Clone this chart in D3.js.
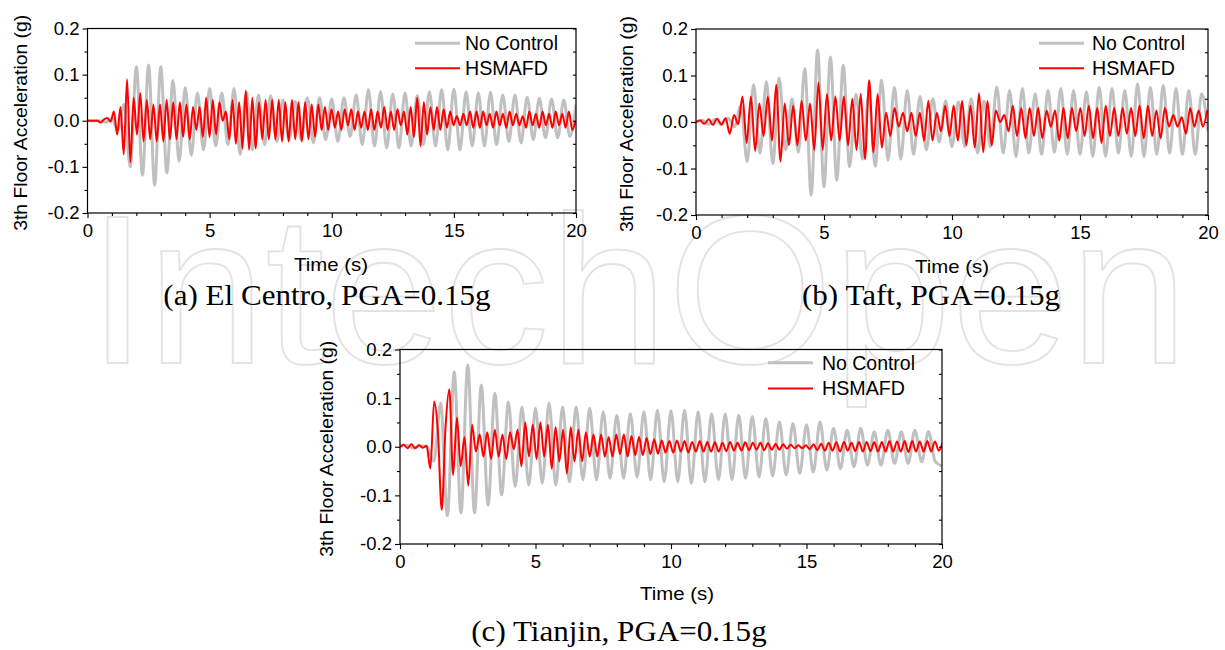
<!DOCTYPE html>
<html><head><meta charset="utf-8">
<script src="https://cdn.jsdelivr.net/npm/d3@7"></script>
<style>body{margin:0;background:#fff}svg{display:block}</style>
</head><body>
<svg id="chart" width="1225" height="650"></svg>
<script>
// ---------- DATA ----------
const timeTicks = [0, 5, 10, 15, 20];
const accTicks = [-0.2, -0.1, 0.0, 0.1, 0.2];
const seriesNames = ["No Control", "HSMAFD"];
const captions = ["(a) El Centro, PGA=0.15g", "(b) Taft, PGA=0.15g", "(c) Tianjin, PGA=0.15g"];
const xTitle = "Time (s)";
const yTitle = "3th Floor Acceleration (g)";
const watermark = "IntechOpen";

// extrema of each record, sampled every <step> seconds from t = 0
const elCentroNoControlStep = 0.25;
const elCentroNoControl = [0,0,0,-0.003,0.005,-0.02,0.035,-0.10,0.117,-0.118,
 0.121,-0.14,0.117,-0.113,0.087,-0.088,0.072,-0.075,0.06,-0.063,
 0.07,-0.055,0.06,-0.052,0.07,-0.073,0.063,-0.063,0.056,-0.052,
 0.054,-0.045,0.045,-0.041,0.042,-0.041,0.05,-0.048,0.05,-0.041,
 0.047,-0.045,0.05,-0.034,0.056,-0.052,0.067,-0.055,0.063,-0.059,
 0.058,-0.059,0.06,-0.055,0.055,-0.052,0.063,-0.055,0.068,-0.063,
 0.069,-0.063,0.063,-0.055,0.06,-0.055,0.062,-0.052,0.056,-0.045,
 0.056,-0.048,0.051,-0.041,0.049,-0.037,0.047,-0.037,0.045,-0.034,0.035];

const elCentroHSMAFDStep = 0.135;
const elCentroHSMAFD = [0,0,0,0,-0.004,0.003,0.006,-0.002,0.02,-0.03,
 0.03,-0.073,0.09,-0.09,0.05,-0.03,0.06,-0.045,0.045,-0.04,
 0.035,-0.045,0.035,-0.045,0.045,-0.04,0.04,-0.04,0.04,-0.035,
 0.035,-0.04,0.03,-0.02,0.03,-0.035,0.05,-0.035,0.045,-0.03,
 0.04,0.0,0.02,-0.04,0.045,-0.05,0.04,-0.06,0.065,-0.063,
 0.05,-0.06,0.04,-0.04,0.045,-0.04,0.045,-0.04,0.045,-0.045,
 0.04,-0.045,0.045,-0.04,0.04,-0.045,0.04,-0.04,0.035,-0.035,
 0.035,-0.02,0.03,-0.02,0.025,-0.015,0.02,-0.02,0.025,-0.01,
 0.025,-0.02,0.02,-0.015,0.02,-0.02,0.025,-0.02,0.02,-0.015,
 0.03,-0.02,0.02,-0.02,0.025,-0.01,0.02,-0.03,0.03,-0.035,
 0.05,-0.055,0.04,-0.03,0.03,-0.02,0.03,-0.02,0.025,-0.015,
 0.02,-0.01,0.01,-0.01,0.015,-0.01,0.02,-0.015,0.02,-0.015,
 0.02,-0.01,0.015,-0.015,0.02,-0.01,0.015,-0.015,0.02,-0.01,
 0.015,-0.01,0.01,-0.015,0.02,-0.01,0.015,-0.015,0.02,-0.01,
 0.015,-0.015,0.02,-0.01,0.015,-0.015,0.02,-0.02,0.0];

const taftNoControlStep = 0.25;
const taftNoControl = [0,0.004,-0.005,0.006,-0.006,0.008,-0.01,0.035,-0.085,0.08,
 -0.067,0.087,-0.089,0.094,-0.06,0.05,-0.065,0.115,-0.157,0.155,
 -0.14,0.14,-0.125,0.122,-0.096,0.06,-0.08,0.06,-0.095,0.09,
 -0.082,0.075,-0.08,0.068,-0.07,0.055,-0.06,0.05,-0.043,0.045,
 -0.053,0.043,-0.053,0.05,-0.067,0.045,-0.053,0.075,-0.067,0.068,
 -0.074,0.072,-0.067,0.061,-0.07,0.068,-0.065,0.072,-0.07,0.068,
 -0.07,0.065,-0.074,0.075,-0.074,0.072,-0.067,0.068,-0.074,0.082,
 -0.074,0.075,-0.07,0.079,-0.067,0.072,-0.07,0.068,-0.07,0.061,-0.02];

const taftHSMAFDStep = 0.165;
const taftHSMAFD = [0,0.003,-0.004,0.006,-0.006,0.007,-0.005,0.008,-0.025,0.015,
 -0.005,0.055,-0.045,0.055,-0.062,0.04,-0.03,0.055,-0.04,0.08,
 -0.085,0.04,-0.05,0.035,-0.05,0.045,-0.04,0.04,-0.06,0.085,
 -0.06,0.06,-0.04,0.055,-0.04,0.055,-0.05,0.05,-0.06,0.06,
 -0.08,0.09,-0.065,0.06,-0.055,0.02,-0.03,0.03,-0.01,0.02,
 -0.02,0.02,-0.03,0.02,-0.04,0.045,-0.04,0.02,-0.02,0.035,
 -0.03,0.035,-0.04,0.045,-0.05,0.035,-0.055,0.062,-0.065,0.045,
 -0.05,0.025,0.0,0.015,-0.02,0.035,-0.03,0.03,-0.035,0.03,
 -0.03,0.03,-0.035,0.025,-0.01,0.025,-0.04,0.03,-0.035,0.03,
 -0.02,0.03,-0.03,0.035,-0.035,0.03,-0.045,0.035,-0.03,0.03,
 -0.03,0.03,-0.025,0.03,-0.03,0.035,-0.035,0.035,-0.03,0.025,
 -0.035,0.03,-0.01,0.015,-0.01,0.01,-0.025,0.03,-0.01,0.025,-0.01,0.025];

const tianjinNoControlStep = 0.25;
const tianjinNoControl = [0,0.003,-0.003,0.002,0,-0.03,0.09,-0.142,0.154,-0.136,
 0.168,-0.136,0.127,-0.12,0.11,-0.099,0.092,-0.082,0.082,-0.079,
 0.079,-0.075,0.09,-0.079,0.082,-0.072,0.082,-0.068,0.079,-0.068,
 0.072,-0.065,0.065,-0.065,0.068,-0.062,0.072,-0.068,0.075,-0.072,
 0.074,-0.072,0.075,-0.075,0.072,-0.072,0.068,-0.068,0.068,-0.068,
 0.065,-0.065,0.062,-0.062,0.058,-0.06,0.051,-0.058,0.048,-0.055,
 0.045,-0.052,0.051,-0.048,0.038,-0.045,0.034,-0.041,0.038,-0.038,
 0.031,-0.038,0.034,-0.034,0.031,-0.034,0.034,-0.031,0.031,-0.03,-0.04];

const tianjinHSMAFDStep = 0.14;
const tianjinHSMAFD = [0,0.004,-0.003,0.005,-0.003,0.003,-0.002,0.002,-0.045,0.093,
 0.03,-0.13,0.04,0.118,-0.058,0.06,-0.04,0.02,-0.08,0.045,
 -0.01,0.025,-0.02,0.03,-0.025,0.035,-0.02,0.025,-0.025,0.03,
 -0.005,0.035,-0.04,0.05,-0.02,0.045,-0.025,0.05,-0.02,0.045,
 -0.045,0.04,-0.03,0.035,-0.055,0.04,-0.03,0.035,-0.03,0.03,
 -0.02,0.025,-0.02,0.025,-0.02,0.02,-0.02,0.025,-0.015,0.025,
 -0.02,0.022,-0.017,0.02,-0.017,0.018,-0.015,0.015,-0.014,0.013,
 -0.012,0.012,-0.012,0.013,-0.01,0.012,-0.012,0.01,-0.01,0.012,
 -0.01,0.01,-0.01,0.009,-0.01,0.008,-0.009,0.01,-0.008,0.008,
 -0.008,0.009,-0.007,0.008,-0.006,0.008,-0.007,0.007,-0.006,0.006,
 -0.006,0.005,-0.004,0.004,-0.003,0.003,-0.003,0.003,-0.005,0.005,
 -0.007,0.006,-0.008,0.008,-0.008,0.009,-0.01,0.01,-0.008,0.008,
 -0.009,0.01,-0.01,0.01,-0.009,0.009,-0.01,0.01,-0.01,0.012,
 -0.01,0.011,-0.01,0.012,-0.011,0.012,-0.01,0.011,-0.01,0.012,
 -0.01,0.011,-0.008,0.008];

// ---------- LAYOUT ----------
const panels = [
  {x0:87.5, x1:576, y0:28.5, y1:213, ref:[elCentroNoControl, elCentroNoControlStep], ctl:[elCentroHSMAFD, elCentroHSMAFDStep],
   cap:captions[0], capX:327, capY:305, xtX:331, xtY:271, ytX:27, legLine:415, legText:465, legY:[43.3,68.3]},
  {x0:696, x1:1208, y0:29, y1:215, ref:[taftNoControl, taftNoControlStep], ctl:[taftHSMAFD, taftHSMAFDStep],
   cap:captions[1], capX:931, capY:305, xtX:952, xtY:273, ytX:633, legLine:1039, legText:1092, legY:[43.3,68.3]},
  {x0:400, x1:942, y0:349.5, y1:544, ref:[tianjinNoControl, tianjinNoControlStep], ctl:[tianjinHSMAFD, tianjinHSMAFDStep],
   cap:captions[2], capX:619, capY:641, xtX:677, xtY:600, ytX:333, legLine:768, legText:822, legY:[362.7,388.5]}
];
const GRAY = "#c0c0c0", RED = "#ff0000";
const sans = "'Liberation Sans', Arial, sans-serif";

const svg = d3.select("#chart");

// watermark: outlined letters behind everything
svg.append("text").attr("x", 88).attr("y", 363)
  .attr("font-family", sans).attr("font-weight", 400).attr("font-size", 212)
  .attr("textLength", 1100).attr("lengthAdjust", "spacingAndGlyphs")
  .attr("fill", "none").attr("stroke", "#e3e3e3").attr("stroke-width", 1.8)
  .text(watermark);

const toPoints = (vals, step) => vals.map((v, i) => [i * step, v]);

function fitText(sel, width) {
  sel.attr("textLength", width).attr("lengthAdjust", "spacingAndGlyphs");
}

panels.forEach((p, k) => {
  const x = d3.scaleLinear().domain([0, 20]).range([p.x0, p.x1]);
  const y = d3.scaleLinear().domain([-0.2, 0.2]).range([p.y1, p.y0]);
  const g = svg.append("g");

  const clipId = "clip" + k;
  svg.append("clipPath").attr("id", clipId).append("rect")
    .attr("x", p.x0).attr("y", p.y0).attr("width", p.x1 - p.x0).attr("height", p.y1 - p.y0);

  const line = d3.line().x(d => x(d[0])).y(d => y(d[1])).curve(d3.curveMonotoneX);
  const plot = g.append("g").attr("clip-path", `url(#${clipId})`);
  plot.append("path").datum(toPoints(p.ref[0], p.ref[1]))
    .attr("fill", "none").attr("stroke", GRAY).attr("stroke-width", 3).attr("stroke-linejoin", "round").attr("d", line);
  plot.append("path").datum(toPoints(p.ctl[0], p.ctl[1]))
    .attr("fill", "none").attr("stroke", RED).attr("stroke-width", 2).attr("stroke-linejoin", "round").attr("d", line);

  g.append("rect").attr("x", p.x0).attr("y", p.y0).attr("width", p.x1 - p.x0).attr("height", p.y1 - p.y0)
    .attr("fill", "none").attr("stroke", "#000").attr("stroke-width", 1.2);

  const minorX = d3.range(0, 20.01, 1).filter(v => v % 5 !== 0);
  const minorY = [-0.15, -0.05, 0.05, 0.15];

  const bx = g.append("g").attr("transform", `translate(0,${p.y1})`)
    .call(d3.axisBottom(x).tickValues(timeTicks).tickSize(5).tickPadding(6).tickFormat(d3.format("d")));
  g.append("g").attr("transform", `translate(0,${p.y1})`)
    .call(d3.axisBottom(x).tickValues(minorX).tickSize(3).tickFormat(""));
  const ly = g.append("g").attr("transform", `translate(${p.x0},0)`)
    .call(d3.axisLeft(y).tickValues(accTicks).tickSize(5).tickPadding(3).tickFormat(d => d.toFixed(1)));
  g.append("g").attr("transform", `translate(${p.x0},0)`)
    .call(d3.axisLeft(y).tickValues(minorY).tickSize(3).tickFormat(""));
  g.append("g").attr("transform", `translate(${p.x1},0)`)
    .call(d3.axisLeft(y).tickValues(accTicks.concat(minorY)).tickSize(3).tickFormat(""));

  g.selectAll(".domain").remove();
  g.selectAll(".tick line").attr("stroke", "#000").attr("stroke-width", 1.1);
  bx.selectAll("text").attr("font-family", sans).attr("font-size", 18.5).attr("fill", "#000");
  ly.selectAll("text").attr("font-family", sans).attr("font-size", 18.5).attr("fill", "#000");

  fitText(g.append("text").attr("x", p.xtX).attr("y", p.xtY).attr("text-anchor", "middle")
    .attr("font-family", sans).attr("font-size", 19).text(xTitle), 74);
  fitText(g.append("text").attr("transform", `translate(${p.ytX},${(p.y0 + p.y1) / 2 + 2}) rotate(-90)`)
    .attr("text-anchor", "middle").attr("font-family", sans).attr("font-size", 19).text(yTitle), 216);

  const legendWidths = [93, 83];
  [[GRAY, 3], [RED, 2]].forEach((s, i) => {
    g.append("line").attr("x1", p.legLine).attr("x2", p.legLine + 45)
      .attr("y1", p.legY[i]).attr("y2", p.legY[i]).attr("stroke", s[0]).attr("stroke-width", s[1]);
    fitText(g.append("text").attr("x", p.legText).attr("y", p.legY[i] + 6.8)
      .attr("font-family", sans).attr("font-size", 19.5).text(seriesNames[i]), legendWidths[i]);
  });

  const cap = g.append("text").attr("x", p.capX).attr("y", p.capY).attr("text-anchor", "middle")
    .attr("font-family", "'Liberation Serif', 'Times New Roman', serif").attr("font-size", 28.5).text(p.cap);
  const w = cap.node().getComputedTextLength();
  fitText(cap, w * 1.09);
});
</script>
</body></html>
